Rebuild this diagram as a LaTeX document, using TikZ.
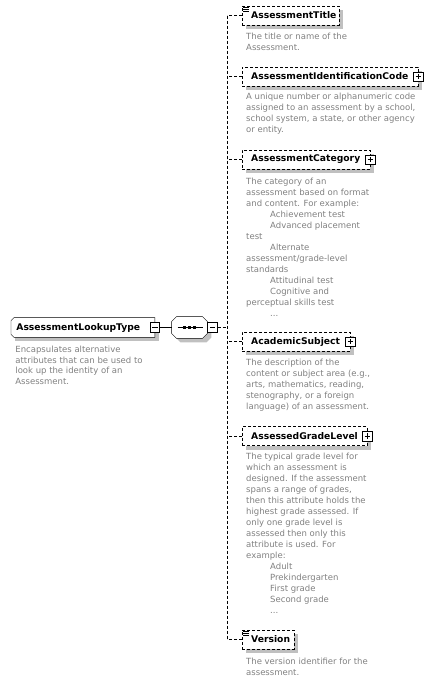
\documentclass[tikz,border=0pt]{standalone}
\usepackage{fontspec}
\setmainfont{DejaVu Sans}
\usetikzlibrary{backgrounds, shadows}

\definecolor{shadowgray}{RGB}{192, 192, 192}
\definecolor{descgray}{RGB}{128, 128, 128}
\newcommand{\descindent}{\hspace*{24pt}}

\begin{document}
\begin{tikzpicture}[x=1pt, y=-1pt, line width=0.8pt,
    boxshadow/.style={general shadow={fill=shadowgray, shadow xshift=4pt, shadow yshift=-4pt}},
    elem/.style={draw, dash pattern=on 3pt off 2pt, fill=white, anchor=west, boxshadow,
        minimum height=19pt, inner xsep=9pt, inner ysep=0pt, align=left,
        font=\fontsize{9.2}{11}\selectfont\bfseries},
    desc/.style={anchor=north west, inner sep=0pt, align=left, text=descgray,
        font=\fontsize{8.5}{11}\selectfont},
    expander/.style={draw, solid, fill=white, minimum size=9.5pt, inner sep=0pt},
    plusbox/.style={expander, path picture={
        \draw[line width=0.8pt] ([xshift=2pt]path picture bounding box.west) -- ([xshift=-2pt]path picture bounding box.east);
        \draw[line width=0.8pt] ([yshift=-2pt]path picture bounding box.north) -- ([yshift=2pt]path picture bounding box.south);}},
    minusbox/.style={expander, path picture={
        \draw[line width=0.8pt] ([xshift=2pt]path picture bounding box.west) -- ([xshift=-2pt]path picture bounding box.east);}},
    conn/.style={dash pattern=on 3pt off 2pt},
]

\useasboundingbox (0,0) rectangle (433,683);

% Root type
\node[anchor=west, minimum height=19pt, text width=133pt, inner xsep=5pt, inner ysep=0pt, align=left,
    font=\fontsize{9.2}{11}\selectfont\bfseries] (lookup) at (11,327.5) {AssessmentLookupType};
\node[minusbox] (lookupminus) at (lookup.east) {};
\node[desc, font=\fontsize{8.5}{10.4}\selectfont] (lookupdesc) at (15,346)
    {Encapsulates alternative\\attributes that can be used to\\look up the identity of an\\Assessment.};

% Sequence compositor
\node[minimum width=35pt, minimum height=21pt, inner sep=0pt] (seq) at (189.5,327.5) {};
\node[minusbox, anchor=west] (seqminus) at (seq.east) {};

\begin{pgfonlayer}{background}
    % root box, bevelled on the left
    \fill[shadowgray] ([shift={(4,4)}]lookup.north west) rectangle ([shift={(4,4)}]lookup.south east);
    \draw[fill=white] ([shift={(3,0)}]lookup.north west) -- (lookup.north east) -- (lookup.south east)
        -- ([shift={(3,0)}]lookup.south west) -- ([shift={(0,-3)}]lookup.south west)
        -- ([shift={(0,3)}]lookup.north west) -- cycle;
    % sequence octagon
    \fill[shadowgray] ([shift={(9,4)}]seq.north west) -- ([shift={(-1,4)}]seq.north east) -- ([shift={(4,9)}]seq.north east)
        -- ([shift={(4,-1)}]seq.south east) -- ([shift={(-1,4)}]seq.south east) -- ([shift={(9,4)}]seq.south west)
        -- ([shift={(4,-1)}]seq.south west) -- ([shift={(4,9)}]seq.north west) -- cycle;
    \draw[fill=white] ([shift={(5,0)}]seq.north west) -- ([shift={(-5,0)}]seq.north east) -- ([shift={(0,5)}]seq.north east)
        -- ([shift={(0,-5)}]seq.south east) -- ([shift={(-5,0)}]seq.south east) -- ([shift={(5,0)}]seq.south west)
        -- ([shift={(0,-5)}]seq.south west) -- ([shift={(0,5)}]seq.north west) -- cycle;
\end{pgfonlayer}
\draw ([xshift=-12pt]seq.center) -- ([xshift=13pt]seq.center);
\foreach \dx in {-5,0,5}
    \fill ([xshift=\dx pt]seq.center) +(-1.5,-1.5) rectangle +(1.5,1.5);

% Child elements
\node[elem, text width=79pt] (title) at (242,15.5) {AssessmentTitle};
\node[elem, text width=158pt] (idcode) at (242,76.5) {AssessmentIdentificationCode};
\node[plusbox] (idcodeplus) at (idcode.east) {};
\node[elem, text width=110pt] (category) at (242,159.5) {AssessmentCategory};
\node[plusbox] (categoryplus) at (category.east) {};
\node[elem, text width=90pt] (subject) at (242,341.5) {AcademicSubject};
\node[plusbox] (subjectplus) at (subject.east) {};
\node[elem, text width=107pt] (grade) at (242,436) {AssessedGradeLevel};
\node[plusbox] (gradeplus) at (grade.east) {};
\node[elem, text width=34pt] (version) at (242,639.5) {Version};

% Simple type marks
\foreach \boxname in {title, version}
    \foreach \dy in {1.5,3.5,5.5}
        \draw[line width=0.6pt] ([xshift=1pt, yshift=-\dy pt]\boxname.north west) -- ++(6,0);

% Descriptions
\node[desc] (titledesc) at (246,33) {The title or name of the\\Assessment.};
\node[desc] (idcodedesc) at (246,93) {A unique number or alphanumeric code\\assigned to an assessment by a school,\\school system, a state, or other agency\\or entity.};
\node[desc] (categorydesc) at (246,178) {The category of an\\assessment based on format\\and content. For example:\\\descindent Achievement test\\\descindent Advanced placement\\test\\\descindent Alternate\\assessment/grade-level\\standards\\\descindent Attitudinal test\\\descindent Cognitive and\\perceptual skills test\\\descindent ...};
\node[desc] (subjectdesc) at (246,359) {The description of the\\content or subject area (e.g.,\\arts, mathematics, reading,\\stenography, or a foreign\\language) of an assessment.};
\node[desc] (gradedesc) at (246,453) {The typical grade level for\\which an assessment is\\designed. If the assessment\\spans a range of grades,\\then this attribute holds the\\highest grade assessed. If\\only one grade level is\\assessed then only this\\attribute is used. For\\example:\\\descindent Adult\\\descindent Prekindergarten\\\descindent First grade\\\descindent Second grade\\\descindent ...};
\node[desc] (versiondesc) at (246,658) {The version identifier for the\\assessment.};

% Connectors
\coordinate (spine) at (227,0);
\draw (lookupminus.east) -- (seq.west);
\draw[conn] (seqminus.east) -- (seqminus.east -| spine);
\draw[conn] (spine |- title.west) -- (spine |- version.west);
\foreach \boxname in {title, idcode, category, subject, grade, version}
    \draw[conn] (\boxname.west) -- (\boxname.west -| spine);

\end{tikzpicture}
\end{document}
